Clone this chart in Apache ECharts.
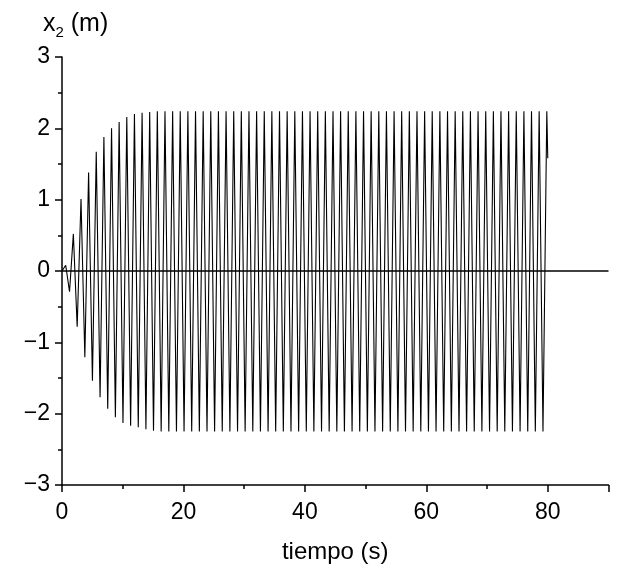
<!DOCTYPE html>
<html>
<head>
<meta charset="utf-8">
<script src="https://cdn.jsdelivr.net/npm/echarts@6/dist/echarts.min.js"></script>
<style>
  html, body { margin: 0; padding: 0; background: #fff; }
  #main { width: 618px; height: 569px; }
</style>
</head>
<body>
<div id="main"></div>
<script>
// x2 extrema (t in s, x2 in m)
var peakTimes = [
  0.61, 1.87, 3.13, 4.38, 5.64, 6.90, 8.16, 9.41, 10.67, 11.93,
  13.19, 14.44, 15.70, 16.96, 18.22, 19.47, 20.73, 21.99, 23.25, 24.50,
  25.76, 27.02, 28.28, 29.53, 30.79, 32.05, 33.31, 34.56, 35.82, 37.08,
  38.34, 39.60, 40.85, 42.11, 43.37, 44.63, 45.88, 47.14, 48.40, 49.66,
  50.91, 52.17, 53.43, 54.69, 55.94, 57.20, 58.46, 59.72, 60.97, 62.23,
  63.49, 64.75, 66.00, 67.26, 68.52, 69.78, 71.04, 72.29, 73.55, 74.81,
  76.07, 77.32, 78.58, 79.84
];
var peakValues = [
  0.08, 0.52, 1.01, 1.38, 1.67, 1.88, 2.00, 2.09, 2.16, 2.20,
  2.22, 2.23, 2.24, 2.24, 2.24, 2.24, 2.24, 2.24, 2.24, 2.24,
  2.24, 2.24, 2.24, 2.24, 2.24, 2.24, 2.24, 2.24, 2.24, 2.24,
  2.24, 2.24, 2.24, 2.24, 2.24, 2.24, 2.24, 2.24, 2.24, 2.24,
  2.24, 2.24, 2.24, 2.24, 2.24, 2.24, 2.24, 2.24, 2.24, 2.24,
  2.24, 2.24, 2.24, 2.24, 2.24, 2.24, 2.24, 2.24, 2.24, 2.24,
  2.24, 2.24, 2.24, 2.24
];
var troughTimes = [
  1.24, 2.50, 3.76, 5.01, 6.27, 7.53, 8.79, 10.04, 11.30, 12.56,
  13.82, 15.07, 16.33, 17.59, 18.85, 20.10, 21.36, 22.62, 23.88, 25.13,
  26.39, 27.65, 28.91, 30.16, 31.42, 32.68, 33.94, 35.19, 36.45, 37.71,
  38.97, 40.23, 41.48, 42.74, 44.00, 45.26, 46.51, 47.77, 49.03, 50.29,
  51.54, 52.80, 54.06, 55.32, 56.57, 57.83, 59.09, 60.35, 61.60, 62.86,
  64.12, 65.38, 66.63, 67.89, 69.15, 70.41, 71.67, 72.92, 74.18, 75.44,
  76.70, 77.95, 79.21
];
var troughValues = [
  -0.29, -0.78, -1.21, -1.54, -1.77, -1.93, -2.05, -2.13, -2.17, -2.19,
  -2.22, -2.24, -2.25, -2.25, -2.25, -2.25, -2.25, -2.25, -2.25, -2.25,
  -2.25, -2.25, -2.25, -2.25, -2.25, -2.25, -2.25, -2.25, -2.25, -2.25,
  -2.25, -2.25, -2.25, -2.25, -2.25, -2.25, -2.25, -2.25, -2.25, -2.25,
  -2.25, -2.25, -2.25, -2.25, -2.25, -2.25, -2.25, -2.25, -2.25, -2.25,
  -2.25, -2.25, -2.25, -2.25, -2.25, -2.25, -2.25, -2.25, -2.25, -2.25,
  -2.25, -2.25, -2.25
];
var startPoint = [0, 0];
var endPoint = [80, 1.58];

var points = [startPoint];
for (var i = 0; i < peakTimes.length; i++) {
  points.push([peakTimes[i], peakValues[i]]);
  if (i < troughTimes.length) points.push([troughTimes[i], troughValues[i]]);
}
points.push(endPoint);

var FONT = 'Liberation Sans';
var chart = echarts.init(document.getElementById('main'), null, { renderer: 'canvas' });

function minusSign(v) {
  return String(v).replace('-', '\u2212');
}

var option = {
  animation: false,
  backgroundColor: '#fff',
  title: {
    left: 43,
    top: 9,
    padding: 0,
    text: '{x|x}{s|2}{x| (m)}',
    textStyle: {
      fontWeight: 'normal',
      rich: {
        x: { fontFamily: FONT, fontSize: 25, fontWeight: 'normal', color: '#000', lineHeight: 31 },
        s: { fontFamily: FONT, fontSize: 15, fontWeight: 'normal', color: '#000', lineHeight: 12, verticalAlign: 'bottom' }
      }
    }
  },
  grid: { left: 62, right: 9.5, top: 57, bottom: 82 },
  xAxis: {
    type: 'value',
    min: 0, max: 90, interval: 20,
    name: 'tiempo (s)',
    nameLocation: 'middle',
    nameGap: 55,
    nameTextStyle: { fontFamily: FONT, fontSize: 24, color: '#000' },
    axisLine: { show: true, onZero: false, lineStyle: { color: '#000', width: 1.5 } },
    axisTick: { show: true, inside: false, length: 7, lineStyle: { color: '#000', width: 1.5 } },
    minorTick: { show: true, splitNumber: 2, length: 4, lineStyle: { color: '#000', width: 1.5 } },
    axisLabel: { fontFamily: FONT, fontSize: 23, color: '#000', margin: 16,
      showMaxLabel: false },
    splitLine: { show: false }
  },
  yAxis: {
    type: 'value',
    min: -3, max: 3, interval: 1,
    axisLine: { show: true, lineStyle: { color: '#000', width: 1.5 } },
    axisTick: { show: true, inside: false, length: 7, lineStyle: { color: '#000', width: 1.5 } },
    minorTick: { show: true, splitNumber: 2, length: 4, lineStyle: { color: '#000', width: 1.5 } },
    axisLabel: { fontFamily: FONT, fontSize: 23, color: '#000', margin: 12, formatter: minusSign },
    splitLine: { show: false }
  },
  series: [{
    type: 'line',
    data: points,
    showSymbol: false,
    symbol: 'none',
    lineStyle: { color: '#000', width: 1.1 },
    markLine: {
      silent: true,
      symbol: 'none',
      label: { show: false },
      lineStyle: { color: '#000', width: 1.5, type: 'solid' },
      data: [{ yAxis: 0 }]
    }
  }]
};

chart.setOption(option);
</script>
</body>
</html>
